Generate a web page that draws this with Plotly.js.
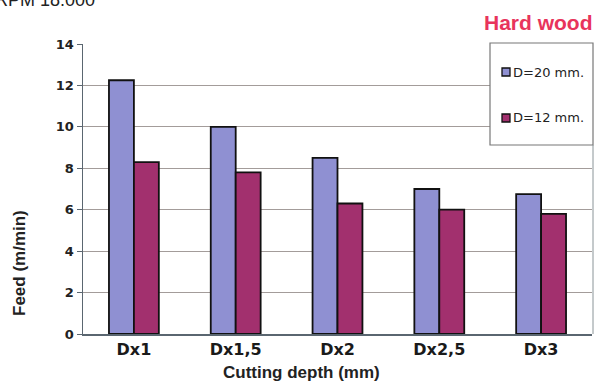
<!DOCTYPE html>
<html>
<head>
<meta charset="utf-8">
<script src="https://cdn.plot.ly/plotly-3.0.1.min.js"></script>
<style>
  html, body { margin: 0; padding: 0; background: #ffffff; }
  #chart { width: 595px; height: 383px; }
</style>
</head>
<body>
<div id="chart"></div>
<script>
const categories = ["Dx1", "Dx1,5", "Dx2", "Dx2,5", "Dx3"];
const seriesNames = ["D=20 mm.", "D=12 mm."];
const feedD20 = [12.25, 10.0, 8.5, 7.0, 6.75];
const feedD12 = [8.3, 7.8, 6.3, 6.0, 5.8];
const yTicks = [0, 2, 4, 6, 8, 10, 12, 14];
const seriesColors = ["#8f90d2", "#a2306e"];

const W = 595, H = 383;
const margin = { l: 83, r: 3, t: 44, b: 49 };
const pw = W - margin.l - margin.r;
const ph = H - margin.t - margin.b;
const px = x => (x - margin.l) / pw;
const py = y => (H - margin.b - y) / ph;

const traces = seriesNames.map((name, i) => ({
  type: "bar", name: name, x: categories, y: i === 0 ? feedD20 : feedD12,
  marker: { color: seriesColors[i], line: { color: "#111111", width: 1.8 } },
  showlegend: false
}));

// manual legend (Excel-like box with small square keys)
const legendY = [72, 118];
const legendShapes = [
  { type: "rect", xref: "paper", yref: "paper", layer: "above",
    x0: px(490), x1: px(593), y0: py(145), y1: py(43),
    fillcolor: "#ffffff", line: { color: "#777777", width: 1.2 } }
];
const legendAnns = [];
seriesNames.forEach((name, i) => {
  legendShapes.push({ type: "rect", xref: "paper", yref: "paper", layer: "above",
    x0: px(502), x1: px(510), y0: py(legendY[i] + 4), y1: py(legendY[i] - 4),
    fillcolor: seriesColors[i], line: { color: "#111111", width: 1.3 } });
  legendAnns.push({ text: name, xref: "paper", yref: "paper",
    x: px(511), y: py(legendY[i]), xanchor: "left", yanchor: "middle", showarrow: false,
    font: { size: 13, family: "'DejaVu Sans', Arial, sans-serif", color: "#222222" } });
});

const layout = {
  width: W, height: H,
  margin: margin,
  paper_bgcolor: "#ffffff",
  plot_bgcolor: "#ffffff",
  barmode: "group",
  bargap: 0.51,
  bargroupgap: 0,
  font: { family: "Arial, 'Liberation Sans', sans-serif", color: "#222222" },
  showlegend: false,
  xaxis: {
    type: "category",
    range: [-0.5, 4.5],
    showgrid: false,
    showline: true, linecolor: "#5a6670", linewidth: 1.5,
    ticks: "",
    tickfont: { size: 16, family: "'DejaVu Sans', Arial, sans-serif", color: "#1a1a1a", weight: "bold" },
    fixedrange: true
  },
  yaxis: {
    range: [0, 14],
    tickvals: yTicks,
    ticktext: yTicks.map(String),
    showgrid: true, gridcolor: "#a39c9a", gridwidth: 1,
    zeroline: false,
    showline: true, linecolor: "#5a6670", linewidth: 1.5,
    ticks: "outside", ticklen: 5, tickcolor: "#5a6670",
    tickfont: { size: 13, family: "'DejaVu Sans', Arial, sans-serif", color: "#222222", weight: "bold" },
    fixedrange: true
  },
  shapes: legendShapes.concat([
    { type: "line", xref: "paper", yref: "paper", layer: "above",
      x0: px(593), x1: px(593), y0: 0, y1: py(145),
      line: { color: "#8a9498", width: 1 } }
  ]),
  annotations: legendAnns.concat([
    { text: "RPM 18.000", xref: "paper", yref: "paper",
      x: px(97), y: py(0), xanchor: "right", yanchor: "middle", showarrow: false,
      font: { size: 18, family: "Arial, 'Liberation Sans', sans-serif", color: "#222222" } },
    { text: "<b>Hard wood</b>", xref: "paper", yref: "paper",
      x: px(595), y: py(23), xanchor: "right", yanchor: "middle", showarrow: false,
      font: { size: 21, family: "Arial, 'Liberation Sans', sans-serif", color: "#e8345c" } },
    { text: "<b>Cutting depth (mm)</b>", xref: "paper", yref: "paper",
      x: px(301), y: py(372), xanchor: "center", yanchor: "middle", showarrow: false,
      font: { size: 17, family: "Arial, 'Liberation Sans', sans-serif", color: "#222222" } },
    { text: "<b>Feed (m/min)</b>", xref: "paper", yref: "paper",
      x: px(19), y: py(263), xanchor: "center", yanchor: "middle", showarrow: false, textangle: -90,
      font: { size: 17, family: "Arial, 'Liberation Sans', sans-serif", color: "#222222" } }
  ])
};

Plotly.newPlot("chart", traces, layout, { staticPlot: true, displayModeBar: false });
</script>
</body>
</html>
